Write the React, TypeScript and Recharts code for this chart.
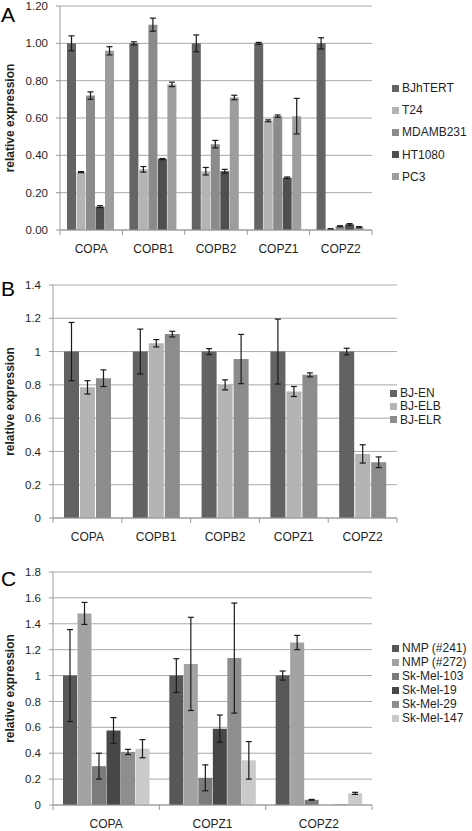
import React from "react";
import { Bar, BarChart, CartesianGrid, ErrorBar, XAxis, YAxis } from "recharts";

const FONT = '"Liberation Sans", Arial, Helvetica, sans-serif';
const GRID = "#a9a9a9";
const AXIS = "#9a9a9a";
const TEXT = "#1f1f1f";

// panel A
const categoriesA = ["COPA", "COPB1", "COPB2", "COPZ1", "COPZ2"];
const bjhtert = [1.0, 1.0, 1.0, 1.0, 1.0];
const bjhtertErr = [0.04, 0.008, 0.045, 0.005, 0.03];
const t24 = [0.31, 0.325, 0.315, 0.585, 0.005];
const t24Err = [0.003, 0.015, 0.02, 0.005, 0.002];
const mdamb231 = [0.72, 1.1, 0.46, 0.61, 0.02];
const mdamb231Err = [0.02, 0.035, 0.02, 0.006, 0.003];
const ht1080 = [0.125, 0.38, 0.315, 0.28, 0.03];
const ht1080Err = [0.005, 0.003, 0.01, 0.004, 0.004];
const pc3 = [0.96, 0.78, 0.71, 0.61, 0.015];
const pc3Err = [0.022, 0.012, 0.012, 0.095, 0.003];
const ticksA = [0, 0.2, 0.4, 0.6, 0.8, 1.0, 1.2];

// panel B
const categoriesB = ["COPA", "COPB1", "COPB2", "COPZ1", "COPZ2"];
const bjEn = [1.0, 1.0, 1.0, 1.0, 1.0];
const bjEnErr = [0.175, 0.135, 0.018, 0.195, 0.02];
const bjElb = [0.785, 1.05, 0.8, 0.76, 0.385];
const bjElbErr = [0.04, 0.022, 0.03, 0.03, 0.055];
const bjElr = [0.84, 1.105, 0.955, 0.86, 0.335];
const bjElrErr = [0.05, 0.017, 0.148, 0.012, 0.032];
const ticksB = [0, 0.2, 0.4, 0.6, 0.8, 1.0, 1.2, 1.4];

// panel C
const categoriesC = ["COPA", "COPZ1", "COPZ2"];
const nmp241 = [1.0, 1.0, 1.0];
const nmp241Err = [0.355, 0.13, 0.035];
const nmp272 = [1.48, 1.09, 1.255];
const nmp272Err = [0.085, 0.36, 0.055];
const skMel103 = [0.3, 0.21, 0.04];
const skMel103Err = [0.1, 0.1, 0.003];
const skMel19 = [0.575, 0.59, 0];
const skMel19Err = [0.1, 0.105, 0];
const skMel29 = [0.41, 1.135, 0.005];
const skMel29Err = [0.02, 0.425, 0];
const skMel147 = [0.435, 0.345, 0.09];
const skMel147Err = [0.07, 0.145, 0.008];
const ticksC = [0, 0.2, 0.4, 0.6, 0.8, 1.0, 1.2, 1.4, 1.6, 1.8];

type Series = { key: string; name: string; color: string; values: number[]; errors: number[] };

const seriesA: Series[] = [
  { key: "bjhtert", name: "BJhTERT", color: "#646464", values: bjhtert, errors: bjhtertErr },
  { key: "t24", name: "T24", color: "#b4b4b4", values: t24, errors: t24Err },
  { key: "mdamb231", name: "MDAMB231", color: "#8b8b8b", values: mdamb231, errors: mdamb231Err },
  { key: "ht1080", name: "HT1080", color: "#4f4f4f", values: ht1080, errors: ht1080Err },
  { key: "pc3", name: "PC3", color: "#9d9d9d", values: pc3, errors: pc3Err },
];

const seriesB: Series[] = [
  { key: "bjEn", name: "BJ-EN", color: "#626262", values: bjEn, errors: bjEnErr },
  { key: "bjElb", name: "BJ-ELB", color: "#b4b4b4", values: bjElb, errors: bjElbErr },
  { key: "bjElr", name: "BJ-ELR", color: "#8c8c8c", values: bjElr, errors: bjElrErr },
];

const seriesC: Series[] = [
  { key: "nmp241", name: "NMP (#241)", color: "#585858", values: nmp241, errors: nmp241Err },
  { key: "nmp272", name: "NMP (#272)", color: "#a3a3a3", values: nmp272, errors: nmp272Err },
  { key: "skMel103", name: "Sk-Mel-103", color: "#7b7b7b", values: skMel103, errors: skMel103Err },
  { key: "skMel19", name: "Sk-Mel-19", color: "#474747", values: skMel19, errors: skMel19Err },
  { key: "skMel29", name: "Sk-Mel-29", color: "#8e8e8e", values: skMel29, errors: skMel29Err },
  { key: "skMel147", name: "Sk-Mel-147", color: "#cacaca", values: skMel147, errors: skMel147Err },
];

function buildRows(categories: string[], series: Series[]) {
  return categories.map((cat, i) => {
    const row: Record<string, string | number> = { cat };
    series.forEach((s) => {
      row[s.key] = s.values[i];
      row[s.key + "Err"] = s.errors[i];
    });
    return row;
  });
}

type PanelProps = {
  top: number;
  height: number;
  letter: string;
  letterBaseline: number;
  plot: { left: number; top: number; right: number; bottom: number };
  categories: string[];
  series: Series[];
  ticks: number[];
  fmt: (v: number) => string;
  barCategoryGap: number;
  barGap: number;
  legend: { x: number; y: number; step: number };
};

function Panel(p: PanelProps) {
  const rows = buildRows(p.categories, p.series);
  const plotW = p.plot.right - p.plot.left;
  const bw = plotW / p.categories.length;
  const n = p.categories.length;
  const xAxisH = p.height - p.plot.bottom;

  const CatTick = (props: any) => {
    const { x, y, payload, index } = props;
    return (
      <g>
        <line x1={x - bw / 2} x2={x - bw / 2} y1={y} y2={y + 5} stroke={AXIS} />
        {index === n - 1 && <line x1={x + bw / 2} x2={x + bw / 2} y1={y} y2={y + 5} stroke={AXIS} />}
        <text x={x} y={y + 23} textAnchor="middle" fontSize={12} fill={TEXT} fontFamily={FONT}>
          {payload.value}
        </text>
      </g>
    );
  };

  return (
    <div style={{ position: "absolute", left: 0, top: p.top, width: 472, height: p.height }}>
      <BarChart
        width={472}
        height={p.height}
        data={rows}
        margin={{ top: p.plot.top, right: 472 - p.plot.right, left: 0, bottom: 0 }}
        barCategoryGap={p.barCategoryGap}
        barGap={p.barGap}
      >
        <CartesianGrid vertical={false} stroke={GRID} strokeWidth={1} />
        <XAxis
          dataKey="cat"
          height={xAxisH}
          interval={0}
          tickLine={false}
          tickSize={0}
          tickMargin={0}
          axisLine={{ stroke: AXIS }}
          tick={CatTick}
        />
        <YAxis
          width={p.plot.left}
          domain={[0, p.ticks[p.ticks.length - 1]]}
          ticks={p.ticks}
          tickFormatter={p.fmt}
          interval={0}
          axisLine={{ stroke: AXIS }}
          tickLine={{ stroke: AXIS }}
          tickSize={4}
          tickMargin={8}
          tick={{ fontSize: 11.5, fill: TEXT, fontFamily: FONT }}
        />
        {p.series.map((s) => (
          <Bar key={s.key} dataKey={s.key} name={s.name} fill={s.color} isAnimationActive={false}>
            <ErrorBar dataKey={s.key + "Err"} width={3} stroke="#1a1a1a" strokeWidth={1.2} direction="y" isAnimationActive={false} />
          </Bar>
        ))}
      </BarChart>
      <svg width={472} height={p.height} style={{ position: "absolute", left: 0, top: 0, pointerEvents: "none" }}>
        <text x={1} y={p.letterBaseline} fontSize={21} fill="#000" fontFamily={FONT}>
          {p.letter}
        </text>
        <text
          x={9.5}
          y={(p.plot.top + p.plot.bottom) / 2}
          transform={`rotate(-90, 9.5, ${(p.plot.top + p.plot.bottom) / 2})`}
          textAnchor="middle"
          dominantBaseline="central"
          fontSize={12}
          fontWeight="bold"
          fill={TEXT}
          fontFamily={FONT}
        >
          relative expression
        </text>
      </svg>
      {p.series.map((s, i) => (
        <div
          key={s.key}
          style={{
            position: "absolute",
            left: p.legend.x,
            top: p.legend.y + i * p.legend.step - 8,
            height: 16,
            display: "flex",
            alignItems: "center",
            fontFamily: FONT,
            fontSize: 12,
            color: TEXT,
            whiteSpace: "nowrap",
          }}
        >
          <span style={{ display: "inline-block", width: 7, height: 7, background: s.color, marginRight: 3 }} />
          {s.name}
        </div>
      ))}
    </div>
  );
}

const fmt2 = (v: number) => v.toFixed(2);
const fmt1 = (v: number) => String(Number(v.toFixed(1)));

export default function App() {
  return (
    <div style={{ position: "absolute", left: 0, top: 0, width: 472, height: 831, background: "#fff", overflow: "hidden" }}>
      <Panel
        top={0}
        height={270}
        letter="A"
        letterBaseline={22}
        plot={{ left: 60, top: 6, right: 372, bottom: 230 }}
        categories={categoriesA}
        series={seriesA}
        ticks={ticksA}
        fmt={fmt2}
        barCategoryGap={7}
        barGap={0.5}
        legend={{ x: 392, y: 88, step: 22.2 }}
      />
      <Panel
        top={275}
        height={285}
        letter="B"
        letterBaseline={21}
        plot={{ left: 53, top: 10, right: 397, bottom: 243 }}
        categories={categoriesB}
        series={seriesB}
        ticks={ticksB}
        fmt={fmt1}
        barCategoryGap={11}
        barGap={1}
        legend={{ x: 390, y: 118, step: 13.4 }}
      />
      <Panel
        top={545}
        height={286}
        letter="C"
        letterBaseline={41}
        plot={{ left: 53, top: 27, right: 372, bottom: 260 }}
        categories={categoriesC}
        series={seriesC}
        ticks={ticksC}
        fmt={fmt1}
        barCategoryGap={10}
        barGap={0.5}
        legend={{ x: 392, y: 103, step: 14 }}
      />
    </div>
  );
}
